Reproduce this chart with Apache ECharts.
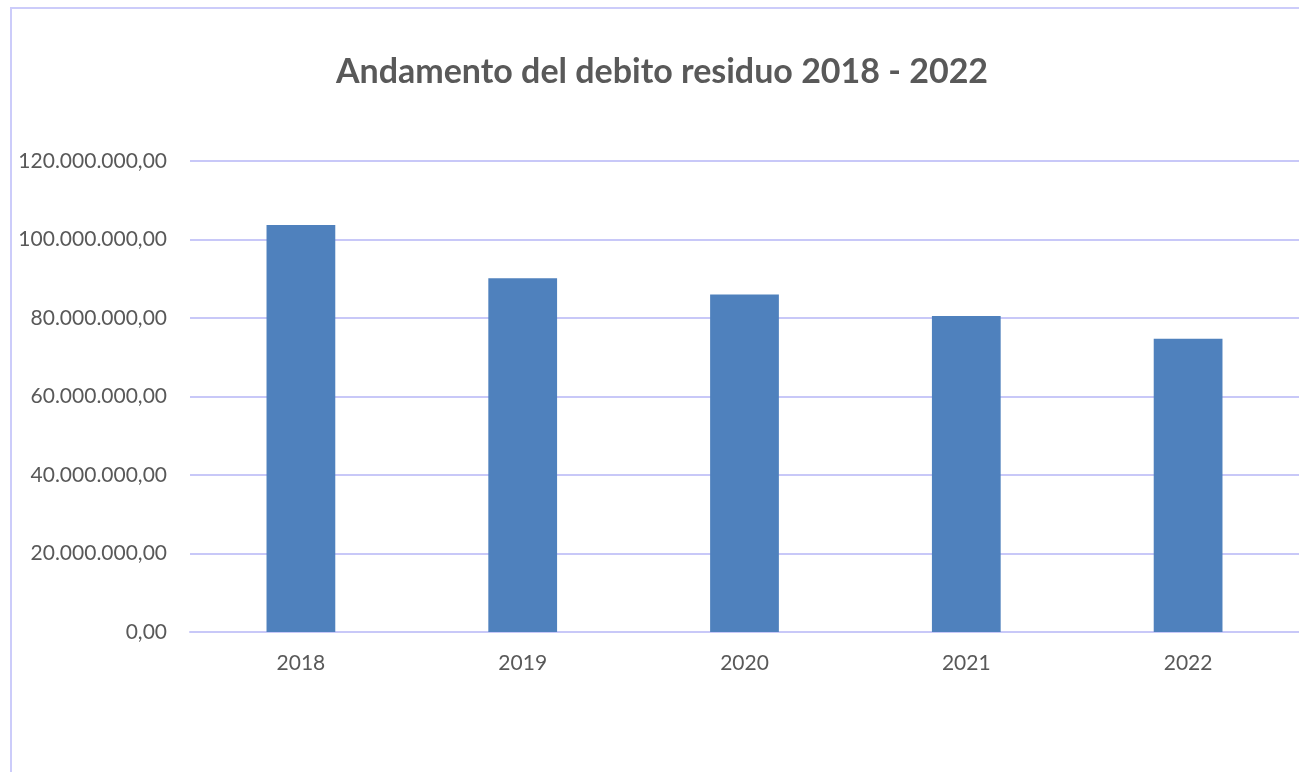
<!DOCTYPE html>
<html>
<head>
<meta charset="utf-8">
<script src="https://cdn.jsdelivr.net/npm/echarts@6/dist/echarts.min.js"></script>
<style>
html,body{margin:0;padding:0;background:#fff;}
#c{width:1299px;height:772px;}
</style>
</head>
<body>
<div id="c"></div>
<script>
const categories = ['2018', '2019', '2020', '2021', '2022'];
const debitoResiduo = [103700000, 90100000, 86000000, 80500000, 74700000];
const yTicks = [0, 20000000, 40000000, 60000000, 80000000, 100000000, 120000000];

function fmt(v) {
  const s = Math.round(v).toString().replace(/\B(?=(\d{3})+(?!\d))/g, '.');
  return s + ',00';
}

const chart = echarts.init(document.getElementById('c'), null, {renderer: 'canvas'});
chart.setOption({
  animation: false,
  backgroundColor: '#fff',
  graphic: [{
    type: 'rect',
    shape: {x: 11, y: 8, width: 1400, height: 900},
    style: {fill: 'none', stroke: '#ccccfa', lineWidth: 2},
    silent: true
  }],
  title: {
    text: 'Andamento del debito residuo 2018 - 2022',
    left: 657,
    textAlign: 'center',
    top: 50,
    textStyle: {fontFamily: 'Lato', fontWeight: 'bold', fontSize: 34, color: '#595959'}
  },
  grid: {left: 190, right: 0, top: 161, bottom: 140, containLabel: false},
  xAxis: {
    type: 'category',
    data: categories,
    axisLine: {show: true, lineStyle: {color: '#c8c8f8', width: 2}},
    axisTick: {show: false},
    axisLabel: {fontFamily: 'Lato', fontSize: 21, color: '#595959', margin: 21}
  },
  yAxis: {
    type: 'value',
    min: yTicks[0],
    max: yTicks[yTicks.length - 1],
    interval: yTicks[1] - yTicks[0],
    axisLine: {show: false},
    axisTick: {show: false},
    splitLine: {lineStyle: {color: '#c8c8f8', width: 2}},
    axisLabel: {fontFamily: 'Lato', fontSize: 21, color: '#595959', margin: 23, formatter: fmt}
  },
  series: [{
    type: 'bar',
    data: debitoResiduo,
    barWidth: '31%',
    itemStyle: {color: '#4f81bd'}
  }]
});
</script>
</body>
</html>
